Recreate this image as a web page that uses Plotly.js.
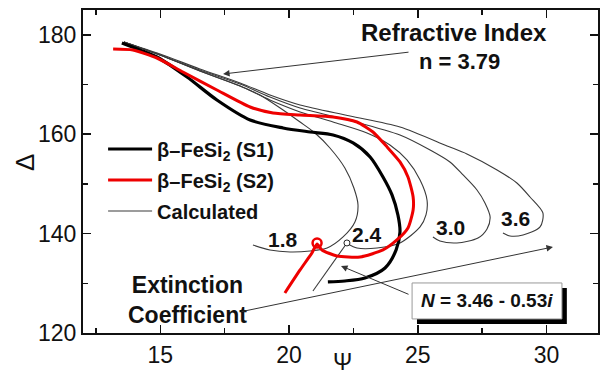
<!DOCTYPE html>
<html>
<head>
<meta charset="utf-8">
<script src="https://cdn.plot.ly/plotly-3.0.1.min.js"></script>
<style>html,body{margin:0;padding:0;background:#fff;}#chart{width:611px;height:376px;}</style>
</head>
<body>
<div id="chart"></div>
<script>
// Measured series: beta-FeSi2 (S1)
const s1Psi   = [13.51,14.21,14.87,16.04,17.20,18.49,19.77,20.82,21.71,22.49,23.15,23.65,24.00,24.23,24.31,24.16,23.73,22.95,22.17,21.51];
const s1Delta = [178.36,176.95,175.54,171.52,166.89,162.87,161.26,160.45,159.85,158.24,155.42,151.40,147.78,143.75,140.33,136.71,133.09,131.08,130.47,130.27];
// Measured series: beta-FeSi2 (S2)
const s2Psi   = [13.17,13.94,14.87,15.88,17.20,18.49,19.38,20.43,21.71,22.64,23.26,23.81,24.31,24.62,24.82,24.82,24.62,24.19,23.65,22.76,21.86,21.28,21.09,20.89,20.43,19.84];
const s2Delta = [177.15,176.95,175.34,172.53,168.90,165.48,164.28,163.87,163.47,162.46,160.45,157.43,154.42,151.40,147.37,144.76,141.14,138.72,136.71,135.30,135.50,136.71,137.92,136.11,132.69,128.06];
// Red open marker on S2
const s2MarkPsi = [21.09];
const s2MarkDelta = [138.1];
// Calculated curves (labels 1.8, 2.4, 3.0, 3.6)
const c18Psi   = [13.59,14.99,16.54,18.10,18.87,19.77,20.43,21.01,21.59,22.17,22.52,22.68,22.56,22.10,21.48,20.82,20.04,19.26,18.60];
const c18Delta = [178.56,175.95,172.73,169.71,167.90,164.88,162.46,160.25,157.23,153.21,149.19,145.76,142.34,139.33,137.11,136.51,136.31,136.71,137.72];
const c24Psi   = [13.59,14.99,16.54,18.10,19.26,20.43,21.71,23.03,23.92,24.58,25.09,25.36,25.32,25.09,24.31,23.42,22.64,22.29];
const c24Delta = [178.56,175.95,172.73,169.71,166.89,164.48,162.46,160.25,157.84,154.82,150.79,146.77,143.75,141.34,138.12,137.11,137.11,137.92];
const c30Psi   = [13.59,14.99,16.54,18.10,19.26,20.43,22.37,24.31,25.48,26.25,26.76,27.30,27.61,27.81,27.69,27.34,26.52,25.86,25.59];
const c30Delta = [178.56,175.95,172.93,170.11,167.49,165.28,162.77,159.85,156.83,154.42,151.80,148.78,146.17,143.35,140.94,139.12,138.12,138.52,139.33];
const c36Psi   = [13.59,14.99,16.54,18.10,19.26,20.43,22.37,24.31,26.14,26.91,28.08,28.85,29.36,29.86,29.75,29.09,28.58,28.31];
const c36Delta = [178.56,176.15,173.13,170.31,167.90,165.89,163.68,161.46,157.64,156.03,152.81,150.19,147.37,144.15,141.34,139.73,139.53,140.13];
// Short calculated segment ending at N = 3.46 - 0.53i
const cNPsi   = [20.93,22.25];
const cNDelta = [128.46,138.12];
const nPointPsi = [22.25];
const nPointDelta = [138.12];
// Curve labels
const curveLabels = ['1.8','2.4','3.0','3.6'];
const labelPsi    = [19.77,23.03,26.29,28.78];
const labelDelta  = [138.9,139.9,141.3,143.1];
// Axis ticks
const xTicks = [15,20,25,30];
const yTicks = [120,140,160,180];

const FONT = 'Liberation Sans, Arial, Helvetica, sans-serif';
const calcStyle = {color:'#3a3a3a', width:1.1, shape:'spline', smoothing:0.8};

const traces = [
  {x:c18Psi, y:c18Delta, mode:'lines', line:calcStyle, name:'Calculated', legendrank:3, legendgroup:'c', showlegend:true, hoverinfo:'skip'},
  {x:c24Psi, y:c24Delta, mode:'lines', line:calcStyle, legendgroup:'c', showlegend:false, hoverinfo:'skip'},
  {x:c30Psi, y:c30Delta, mode:'lines', line:calcStyle, legendgroup:'c', showlegend:false, hoverinfo:'skip'},
  {x:c36Psi, y:c36Delta, mode:'lines', line:calcStyle, legendgroup:'c', showlegend:false, hoverinfo:'skip'},
  {x:cNPsi, y:cNDelta, mode:'lines', line:{color:'#3a3a3a', width:1.1}, legendgroup:'c', showlegend:false, hoverinfo:'skip'},
  {x:s1Psi, y:s1Delta, mode:'lines', line:{color:'#000000', width:3.2, shape:'spline', smoothing:0.8}, name:'β–FeSi<sub>2</sub> (S1)', legendrank:1, legendgroup:'a'},
  {x:s2Psi, y:s2Delta, mode:'lines', line:{color:'#ee0000', width:3, shape:'spline', smoothing:0.6}, name:'β–FeSi<sub>2</sub> (S2)', legendrank:2, legendgroup:'b'},
  {x:s2MarkPsi, y:s2MarkDelta, mode:'markers', marker:{symbol:'circle-open', size:9, color:'#ee0000', line:{width:2.5, color:'#ee0000'}}, legendgroup:'b', showlegend:false},
  {x:nPointPsi, y:nPointDelta, mode:'markers', marker:{symbol:'circle', size:6, color:'#ffffff', line:{width:1, color:'#222'}}, legendgroup:'c', showlegend:false}
];

const annotations = [
  {x:26.40, y:180.4, xref:'x', yref:'y', text:'Refractive Index', showarrow:false, font:{family:FONT, size:24, color:'#111', weight:'bold'}},
  {x:26.64, y:174.6, xref:'x', yref:'y', text:'n = 3.79', showarrow:false, font:{family:FONT, size:22, color:'#111', weight:'bold'}},
  {x:16.06, y:126.6, xref:'x', yref:'y', text:'Extinction<br>Coefficient', showarrow:false, font:{family:FONT, size:23, color:'#111', weight:'bold'}},
  {x:27.69, y:126.45, xref:'x', yref:'y', text:'<i>N</i> = 3.46 - 0.53<i>i</i>', showarrow:false, font:{family:FONT, size:19, color:'#111', weight:'bold'}},
  // arrows
  {x:17.44, y:172.12, ax:24.70, ay:176.55, xref:'x', yref:'y', axref:'x', ayref:'y', text:'', showarrow:true, arrowhead:2, arrowsize:1.3, arrowwidth:1, arrowcolor:'#333', standoff:0},
  {x:30.25, y:137.31, ax:18.10, ay:124.24, xref:'x', yref:'y', axref:'x', ayref:'y', text:'', showarrow:true, arrowhead:2, arrowsize:1.3, arrowwidth:1, arrowcolor:'#333', standoff:0},
  {x:22.02, y:133.49, ax:24.70, ay:127.66, xref:'x', yref:'y', axref:'x', ayref:'y', text:'', showarrow:true, arrowhead:2, arrowsize:1.3, arrowwidth:1, arrowcolor:'#333', standoff:0},
  // axis titles
  {x:(25-83)/515, y:(333-163)/323, xref:'paper', yref:'paper', xanchor:'center', yanchor:'middle', text:'Δ', textangle:-90, showarrow:false, font:{family:FONT, size:26, color:'#111'}},
  {x:(342-83)/515, y:-(362-333)/323, xref:'paper', yref:'paper', xanchor:'center', yanchor:'middle', text:'Ψ', showarrow:false, font:{family:FONT, size:23, color:'#111'}}
];
curveLabels.forEach((t,i)=>annotations.push({x:labelPsi[i], y:labelDelta[i], xref:'x', yref:'y', text:t, showarrow:false, font:{family:FONT, size:21, color:'#111', weight:'bold'}}));

const layout = {
  width:611, height:376,
  margin:{l:83, r:13, t:10, b:43},
  paper_bgcolor:'#fff', plot_bgcolor:'#fff',
  font:{family:FONT, color:'#111'},
  xaxis:{range:[12,32], tickvals:xTicks, ticks:'inside', ticklen:8, tickwidth:1.5, tickcolor:'#111',
         minor:{dtick:2.5, tick0:0, ticks:'inside', ticklen:5, tickwidth:1.5, tickcolor:'#111'},
         showline:true, linewidth:2, linecolor:'#111', mirror:'ticks', showgrid:false, zeroline:false,
         tickfont:{family:FONT, size:23, color:'#111'}},
  yaxis:{range:[120,185], tickvals:yTicks, ticks:'inside', ticklen:8, tickwidth:1.5, tickcolor:'#111',
         minor:{dtick:10, tick0:0, ticks:'inside', ticklen:5, tickwidth:1.5, tickcolor:'#111'},
         showline:true, linewidth:2, linecolor:'#111', mirror:'ticks', showgrid:false, zeroline:false,
         tickfont:{family:FONT, size:23, color:'#111'}},
  showlegend:true,
  legend:{x:0.039, y:0.63, xanchor:'left', yanchor:'top', bgcolor:'rgba(0,0,0,0)', borderwidth:0,
          font:{family:FONT, size:20, color:'#111', weight:'bold'}, itemwidth:44, traceorder:'grouped', tracegroupgap:2},
  shapes:[
    {type:'rect', xref:'x', yref:'y', x0:24.97, x1:30.79, y0:121.82, y1:129.06, fillcolor:'#000', line:{width:0}, layer:'above'},
    {type:'rect', xref:'x', yref:'y', x0:24.78, x1:30.60, y0:122.83, y1:130.07, fillcolor:'#fff', line:{width:1, color:'#999'}, layer:'above'}
  ],
  annotations:annotations
};

Plotly.newPlot('chart', traces, layout, {staticPlot:true, displayModeBar:false});
</script>
</body>
</html>
